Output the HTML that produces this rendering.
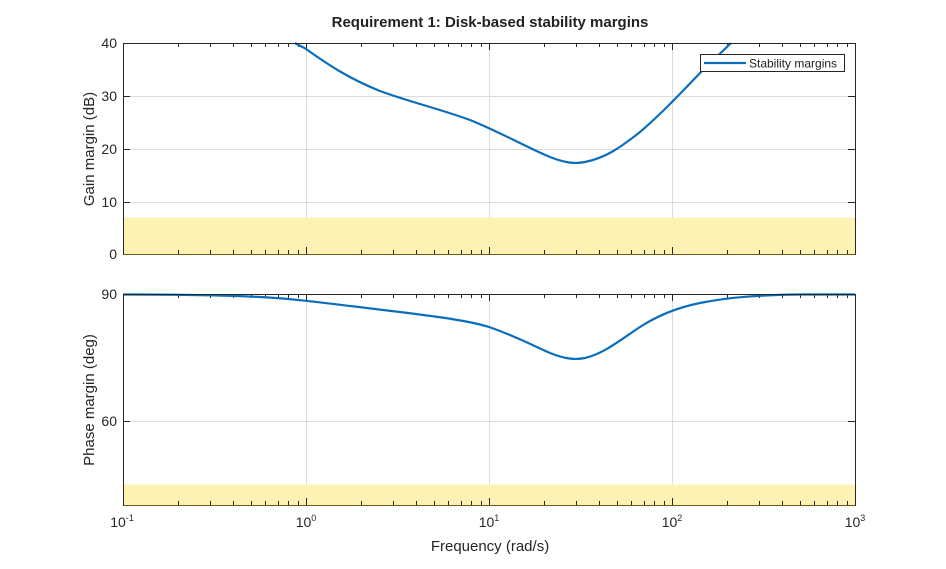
<!DOCTYPE html>
<html><head><meta charset="utf-8"><style>
body{margin:0;background:#fff;}
svg{display:block;font-family:"Liberation Sans",sans-serif;}
</style></head><body>
<svg id="s" width="946" height="569" viewBox="0 0 946 569" xmlns="http://www.w3.org/2000/svg">
<rect width="946" height="569" fill="#fff"/>
<text x="490" y="27" text-anchor="middle" font-size="15" font-weight="bold" fill="#222">Requirement 1: Disk-based stability margins</text>
<g id="g"></g>
<rect x="123.5" y="217.5" width="732" height="37" fill="#fdf1b4"/>
<rect x="123.5" y="484.5" width="732" height="21" fill="#fdf1b4"/>
<g id="t"></g>
<path d="M295,43 C300,46 303,47 306,49 C330,66 350,79 380,91 C410,102 440,109 470,120 C500,132 530,149 550,157 C565,163 575,164 585,162 C605,158 620,148 640,132 C660,115 680,94 700,73 C712,61 722,52 731,43" fill="none" stroke="#0b6ebd" stroke-width="2.2"/>
<path d="M123,294.5 C180,294.5 220,295 260,297 C300,299 340,305 400,312 C440,317 470,321 489,327 C510,334 530,344 550,353 C565,359 575,360 585,358 C605,353 620,340 640,327 C660,314 680,307 700,303 C730,297 760,295 800,294.5 L855,294.5" fill="none" stroke="#0b6ebd" stroke-width="2.2"/>
<rect x="123.5" y="43.5" width="732" height="211" fill="none" stroke="#262626" stroke-width="1"/>
<line x1="123.5" y1="254.5" x2="855.5" y2="254.5" stroke="#6b5a10" stroke-width="1"/>
<rect x="123.5" y="294.5" width="732" height="211" fill="none" stroke="#262626" stroke-width="1"/>
<line x1="123.5" y1="505.5" x2="855.5" y2="505.5" stroke="#6b5a10" stroke-width="1"/>
<g font-size="14" fill="#262626" text-anchor="end">
<text x="117" y="48">40</text><text x="117" y="101">30</text><text x="117" y="154">20</text><text x="117" y="207">10</text><text x="117" y="259">0</text>
<text x="117" y="299">90</text><text x="117" y="426">60</text>
</g>
<g font-size="14" fill="#262626" text-anchor="middle">
<text x="122" y="527">10<tspan font-size="9" dy="-6">-1</tspan></text>
<text x="306" y="527">10<tspan font-size="9" dy="-6">0</tspan></text>
<text x="489" y="527">10<tspan font-size="9" dy="-6">1</tspan></text>
<text x="672" y="527">10<tspan font-size="9" dy="-6">2</tspan></text>
<text x="855" y="527">10<tspan font-size="9" dy="-6">3</tspan></text>
<text x="490" y="551" font-size="15">Frequency (rad/s)</text>
<text transform="translate(94,149) rotate(-90)" font-size="15">Gain margin (dB)</text>
<text transform="translate(94,400) rotate(-90)" font-size="15">Phase margin (deg)</text>
</g>
<rect x="700.5" y="54.5" width="144" height="17" fill="#fff" stroke="#262626" stroke-width="1"/>
<line x1="704" y1="63" x2="746" y2="63" stroke="#0b6ebd" stroke-width="2.2"/>
<text x="749" y="67.5" font-size="12" fill="#222">Stability margins</text>
</svg>
<script>
var g=document.getElementById('g'),t=document.getElementById('t'),h='',k='';
function L(x1,y1,x2,y2,c,w){return '<line x1="'+x1+'" y1="'+y1+'" x2="'+x2+'" y2="'+y2+'" stroke="'+c+'" stroke-width="'+(w||1)+'"/>';}
for(var d=0;d<4;d++){for(var m=1;m<10;m++){var x=123+183*(d+Math.log10(m));x=Math.round(x)+0.5;
 if(m==1){ if(d>0){h+=L(x,43,x,254,'#dcdcdc');h+=L(x,294,x,505,'#dcdcdc');}
   k+=L(x,43,x,50,'#262626');k+=L(x,254,x,247,'#262626');k+=L(x,294,x,301,'#262626');k+=L(x,505,x,498,'#262626');}
 else{k+=L(x,43,x,47,'#262626');k+=L(x,254,x,250,'#262626');k+=L(x,294,x,298,'#262626');k+=L(x,505,x,501,'#262626');}}}
[96.5,149.5,202.5].forEach(function(y){h+=L(123,y,855,y,'#dcdcdc');k+=L(123,y,130,y,'#262626');k+=L(855,y,848,y,'#262626');});
h+=L(123,421.5,855,421.5,'#dcdcdc');k+=L(123,421.5,130,421.5,'#262626');k+=L(855,421.5,848,421.5,'#262626');
g.innerHTML=h;t.innerHTML=k;
</script>
</body></html>
